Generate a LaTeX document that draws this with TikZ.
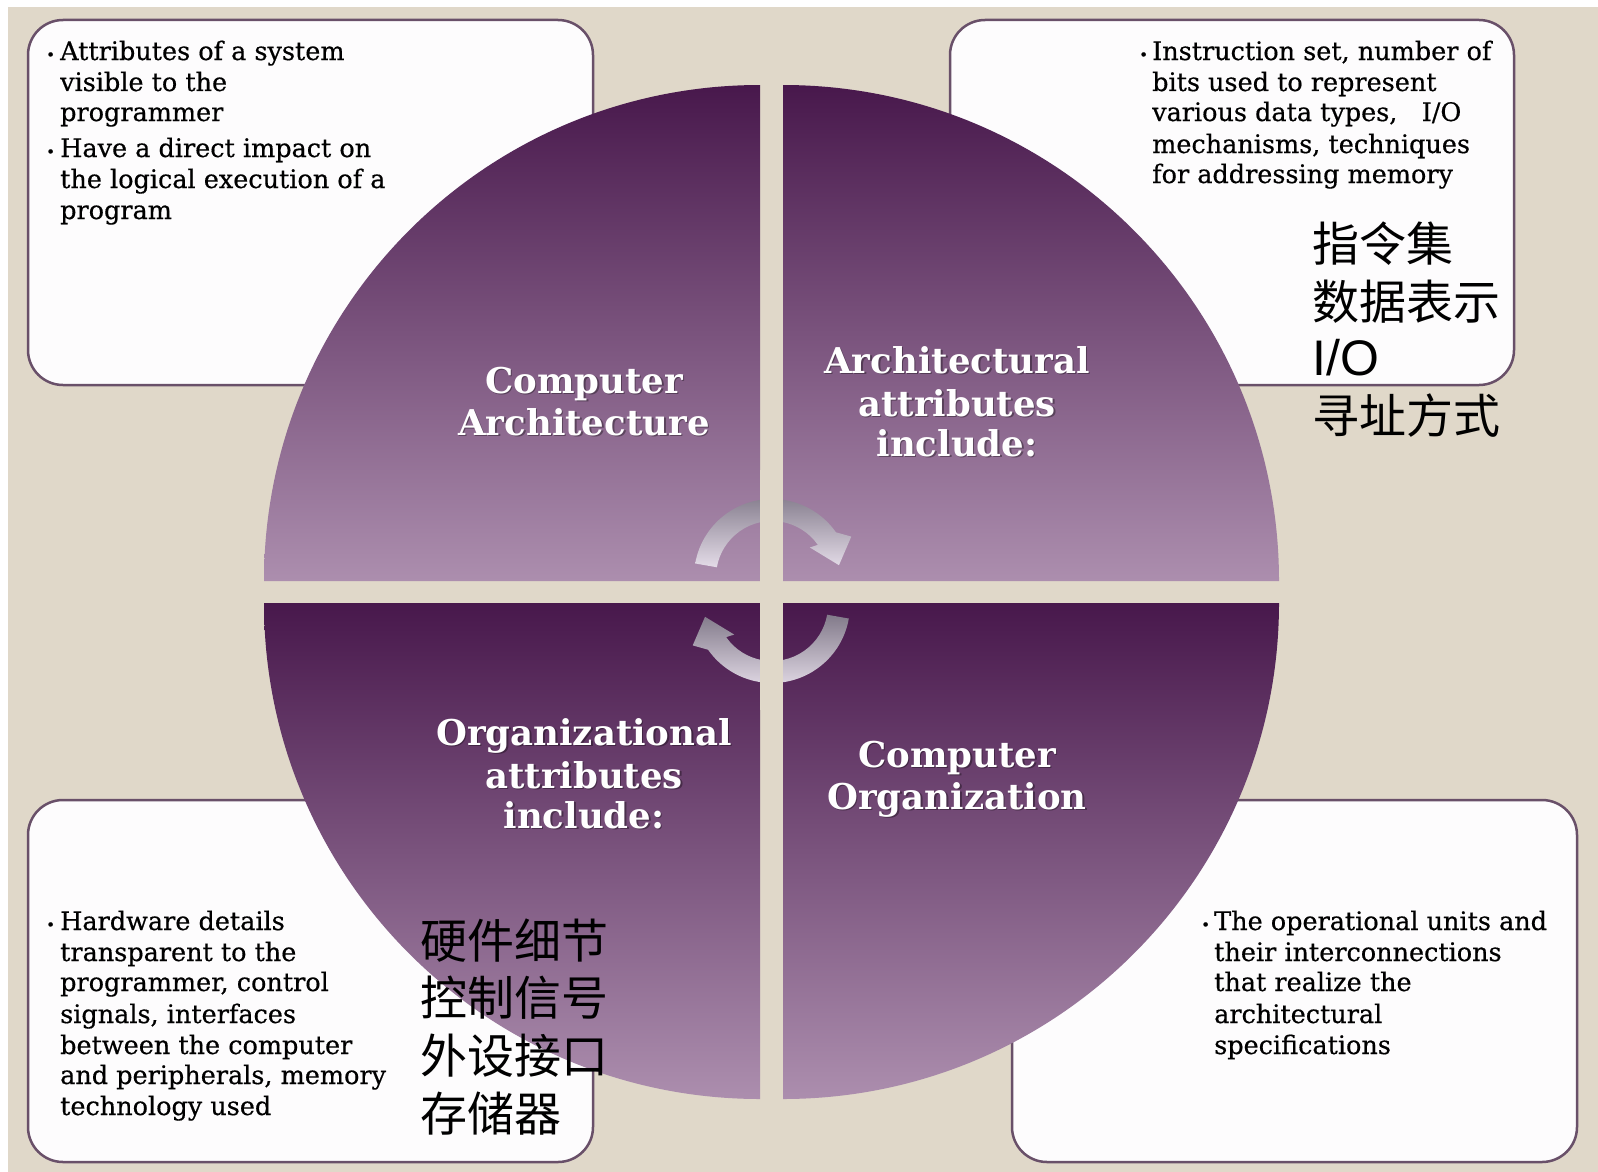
\documentclass[tikz,border=0pt]{standalone}
\usepackage{fontspec}
\usetikzlibrary{calc}
\newfontfamily\bodyfont{DejaVu Serif}[FakeBold=0.5]
\newfontfamily\titlefont{DejaVu Serif}
\newfontfamily\cjk{Noto Sans CJK SC}
\newfontfamily\arialfont{Liberation Sans}
\definecolor{bg}{RGB}{224,216,201}
\definecolor{qtop}{RGB}{72,24,76}
\definecolor{qbot}{RGB}{172,142,174}
\definecolor{boxline}{RGB}{105,80,105}
\definecolor{boxfill}{RGB}{253,252,253}
\definecolor{arrtop}{RGB}{130,122,138}
\definecolor{arrbot}{RGB}{228,220,232}
\tikzset{
  infobox/.style={draw=boxline, line width=2.5pt, fill=boxfill, rounded corners=35pt},
  quad/.style={top color=qtop, bottom color=qbot},
  arr/.style={top color=arrtop, bottom color=arrbot},
  body/.style={font=\bodyfont\fontsize{25.5}{29}\selectfont, anchor=base west, inner sep=0pt, text=black},
  bul/.style={font=\bodyfont\fontsize{15}{15}\selectfont, anchor=base west, inner sep=0pt, text=black},
  title/.style={font=\titlefont\bfseries\fontsize{35.5}{40}\selectfont, anchor=base, inner sep=0pt, text=white},
  tshadow/.style={title, text=black, opacity=0.35},
  zh/.style={font=\cjk\fontsize{47}{47}\selectfont, anchor=base west, inner sep=0pt, text=black},
}
\newcommand\ttl[4]{%
  \node[tshadow] (#1s) at (#2+1.5,#3+1.5) {#4};
  \node[title] (#1) at (#2,#3) {#4};}
\begin{document}
\begin{tikzpicture}[x=1pt,y=-1pt]
\useasboundingbox (0,0) rectangle (1598,1172);
\fill[white] (0,0) rectangle (1598,1172);
\fill[bg] (8,7) rectangle (1598,1172);
% boxes
\draw[infobox] (28,20) rectangle (593,385);
\draw[infobox] (950,20) rectangle (1514,385);
\draw[infobox] (28,800) rectangle (593,1162);
\draw[infobox] (1012,800) rectangle (1577,1162);
% quadrants
\shade[quad] (760,581) -- (264,581) arc[start angle=180,end angle=270,radius=496] -- cycle;
\shade[quad] (783,581) -- (783,85) arc[start angle=270,end angle=360,radius=496] -- cycle;
\shade[quad] (760,603) -- (760,1099) arc[start angle=90,end angle=180,radius=496] -- cycle;
\shade[quad] (783,603) -- (1279,603) arc[start angle=0,end angle=90,radius=496] -- cycle;
% cycle arrows
\coordinate (c1) at (772,577);
\coordinate (c2) at (772,605);
\shade[arr] ($(c1)+(190:78)$) arc[start angle=190,end angle=325,radius=78] -- ($(c1)+(333:89)$) -- ($(c1)+(350:68)$) -- ($(c1)+(322:48)$) -- ($(c1)+(325:56)$) arc[start angle=325,end angle=190,radius=56] -- cycle;
\shade[arr] ($(c2)+(10:78)$) arc[start angle=10,end angle=145,radius=78] -- ($(c2)+(153:89)$) -- ($(c2)+(170:68)$) -- ($(c2)+(142:48)$) -- ($(c2)+(145:56)$) arc[start angle=145,end angle=10,radius=56] -- cycle;
\fill[bg] (760,470) rectangle (783,710);
% titles
\ttl{ca1}{584}{393}{Computer}
\ttl{ca2}{584}{435}{Architecture}
\ttl{aa1}{957}{373}{Architectural}
\ttl{aa2}{957}{416}{attributes}
\ttl{aa3}{957}{456}{include:}
\ttl{oa1}{584}{745}{Organizational}
\ttl{oa2}{584}{788}{attributes}
\ttl{oa3}{584}{828}{include:}
\ttl{co1}{957}{767}{Computer}
\ttl{co2}{957}{809}{Organization}
% top-left text
\node[bul] (tlb1) at (46,60) {•};
\node[body] (tl1) at (60,60) {Attributes of a system};
\node[body] (tl2) at (60,91) {visible to the};
\node[body] (tl3) at (60,121) {programmer};
\node[bul] (tlb2) at (46,157) {•};
\node[body] (tl4) at (60,157) {Have a direct impact on};
\node[body] (tl5) at (60,188) {the logical execution of a};
\node[body] (tl6) at (60,219) {program};
% top-right text
\node[bul] (trb1) at (1139,60) {•};
\node[body] (tr1) at (1152,60) {Instruction set, number of};
\node[body] (tr2) at (1152,91) {bits used to represent};
\node[body] (tr3) at (1152,121) {various data types,\ \ \ I/O};
\node[body] (tr4) at (1152,153) {mechanisms, techniques};
\node[body] (tr5) at (1152,183) {for addressing memory};
% bottom-left text
\node[bul] (blb1) at (46,930) {•};
\node[body] (bl1) at (60,930) {Hardware details};
\node[body] (bl2) at (60,961) {transparent to the};
\node[body] (bl3) at (60,991) {programmer, control};
\node[body] (bl4) at (60,1023) {signals, interfaces};
\node[body] (bl5) at (60,1054) {between the computer};
\node[body] (bl6) at (60,1084) {and peripherals, memory};
\node[body] (bl7) at (60,1115) {technology used};
% bottom-right text
\node[bul] (brb1) at (1201,930) {•};
\node[body] (br1) at (1214,930) {The operational units and};
\node[body] (br2) at (1214,961) {their interconnections};
\node[body] (br3) at (1214,991) {that realize the};
\node[body] (br4) at (1214,1023) {architectural};
\node[body] (br5) at (1214,1054) {specifications};
% chinese notes
\node[zh] (z1) at (1312,261) {指令集};
\node[zh] (z2) at (1312,319) {数据表示};
\node[zh, font=\arialfont\fontsize{50}{50}\selectfont] (z3) at (1312,375) {I/O};
\node[zh] (z4) at (1312,433) {寻址方式};
\node[zh] (z5) at (420,958) {硬件细节};
\node[zh] (z6) at (420,1015) {控制信号};
\node[zh] (z7) at (420,1073) {外设接口};
\node[zh] (z8) at (420,1131) {存储器};
\end{tikzpicture}
\end{document}
